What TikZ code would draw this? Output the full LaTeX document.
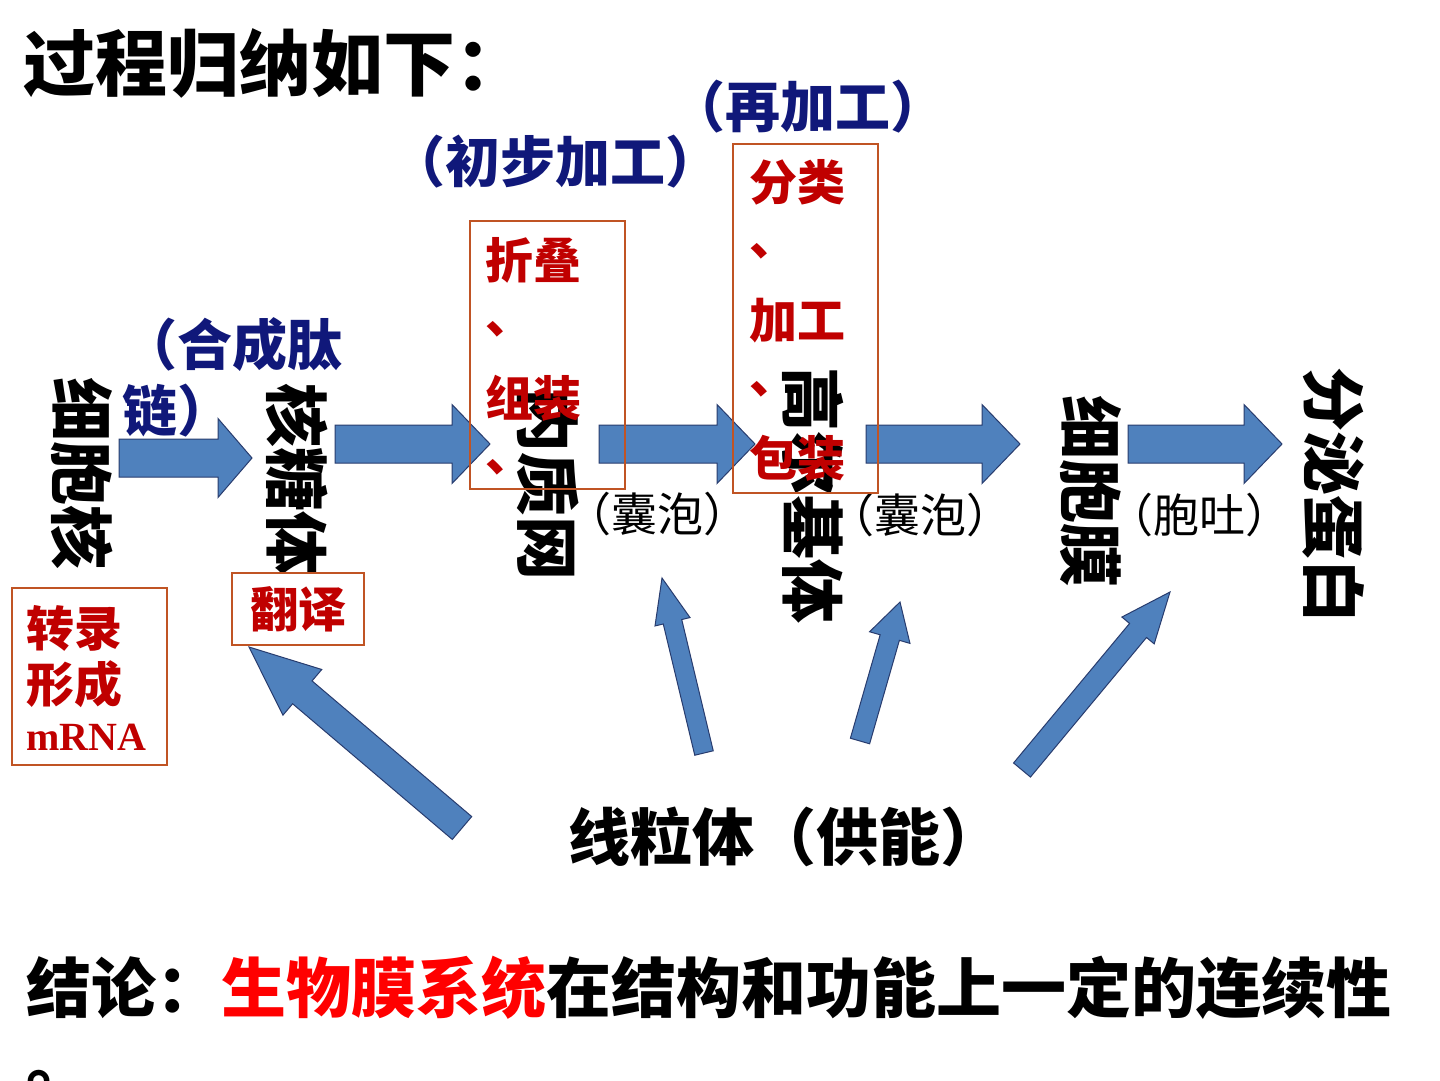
\documentclass[tikz,border=0pt]{standalone}
\usepackage{fontspec}
\setmainfont{Noto Sans CJK SC}
\newfontfamily\timesf{Liberation Serif}
\usepackage{tikz}
\usetikzlibrary{calc}
\usetikzlibrary{positioning}
\definecolor{navy}{RGB}{16,24,122}
\definecolor{darkred}{RGB}{192,0,0}
\definecolor{boxc}{RGB}{192,84,36}
\definecolor{arrfill}{RGB}{79,129,189}
\definecolor{arrline}{RGB}{40,60,110}
\newcommand{\fsz}[2]{\fontsize{#1}{#2}\selectfont}
\newcommand{\dun}{\raisebox{14pt}{、}}
\tikzstyle{vert}=[rotate=-90,inner sep=0,font=\bfseries\fsz{64}{64}]
\tikzstyle{note}=[inner sep=0,text=navy,font=\bfseries\fsz{55}{66},align=left,anchor=west]
\tikzstyle{small}=[inner sep=0,font=\fsz{46}{46},anchor=west]
\tikzstyle{redbox}=[draw=boxc,line width=1.5pt,inner sep=0]
\tikzstyle{redtxt}=[inner sep=0,text=darkred,font=\bfseries\fsz{48}{69},align=left,anchor=north west]
\tikzstyle{blockarr}=[fill=arrfill,draw=arrline,line width=1pt,line join=miter]
% tail, tip, shaft half width, head half width, head length
\newcommand{\fatarrow}[5]{%
  \coordinate (hb) at ($(#2)!#5pt!(#1)$);
  \draw[blockarr] ($(#1)!#3pt!90:(#2)$) -- ($(hb)!#3pt!90:(#2)$) -- ($(hb)!#4pt!90:(#2)$) -- (#2)
    -- ($(hb)!#4pt!-90:(#2)$) -- ($(hb)!#3pt!-90:(#2)$) -- ($(#1)!#3pt!-90:(#2)$) -- cycle;
}

\begin{document}
\begin{tikzpicture}[x=1pt,y=-1pt]
\fill[white] (0,0) rectangle (1440,1080);
\useasboundingbox (0,0) rectangle (1440,1080);

\node[inner sep=0,anchor=west,font=\bfseries\fsz{72}{72}] (title) at (23,63) {过程归纳如下：};

% the chain
\node[vert] (nuc) at (82,473) {细胞核};
\node[vert] (rib) at (297,479) {核糖体};
\node[vert] (er) at (548,484) {内质网};
\node[vert] (golgi) at (813,495) {高尔基体};
\node[vert] (mem) at (1091,491) {细胞膜};
\node[vert] (prot) at (1334,495) {分泌蛋白};

\node[note] (syn) at (122,377) {（合成肽\\链）};
\node[note] (first) at (390,162) {（初步加工）};
\node[note] (again) at (670,107) {（再加工）};

\node[small] (ves1) at (565,514) {（囊泡）};
\node[small] (ves2) at (828,515) {（囊泡）};
\node[small] (exo) at (1107,515) {（胞吐）};

\coordinate (t1) at (119,458); \coordinate (h1) at (252,458);
\coordinate (t2) at (335,444); \coordinate (h2) at (490,444);
\coordinate (t3) at (599,444); \coordinate (h3) at (755,444);
\coordinate (t4) at (866,444); \coordinate (h4) at (1020,444);
\coordinate (t5) at (1128,444); \coordinate (h5) at (1282,444);
\fatarrow{t1}{h1}{19}{39.5}{34}
\fatarrow{t2}{h2}{19}{39.5}{38}
\fatarrow{t3}{h3}{19}{39.5}{38}
\fatarrow{t4}{h4}{19}{39.5}{38}
\fatarrow{t5}{h5}{19}{39.5}{38}

% energy from mitochondria
\node[inner sep=0,anchor=west,font=\bfseries\fsz{62}{62}] (mito) at (568,837) {线粒体（供能）};
\coordinate (ma) at (462,828); \coordinate (mb) at (704,753);
\coordinate (mc) at (860,741); \coordinate (md) at (1022,770);
\coordinate (ta) at (249,647); \coordinate (tb) at (662,578);
\coordinate (tc) at (900,602); \coordinate (td) at (1170,592);
\fatarrow{ma}{ta}{15}{30}{70}
\fatarrow{mb}{tb}{9.5}{18}{45}
\fatarrow{mc}{tc}{10}{21}{37}
\fatarrow{md}{td}{11}{21}{50}

% red notes
\node[redbox,minimum width=155,minimum height=177] (trs) at (89.5,676.5) {};
\node[redtxt,font=\bfseries\fsz{48}{56}] (trstxt) at ([xshift=15pt,yshift=-18pt]trs.north west)
  {转录\\形成\\[-8pt]{\timesf\fsz{40}{40}mRNA}};
\node[redbox,fill=white,minimum width=132,minimum height=72,text=darkred,font=\bfseries\fsz{48}{48}] (tl) at (298,609) {翻译};
\node[redbox,minimum width=155,minimum height=268] (fold) at (547.5,355) {};
\node[redtxt] (foldtxt) at ([xshift=16pt,yshift=-17pt]fold.north west) {折叠\\\dun\\组装\\\dun};
\node[redbox,minimum width=145,minimum height=349] (sort) at (805.5,318.5) {};
\node[redtxt] (sorttxt) at ([xshift=17pt,yshift=-16pt]sort.north west) {分类\\\dun\\加工\\\dun\\包装};

% conclusion
\node[inner sep=0,anchor=west,font=\bfseries\fsz{65}{65}] (conc) at (26,988)
  {结论：\textcolor{red}{生物膜系统}在结构和功能上一定的连续性};
\node[inner sep=0,anchor=base west,font=\bfseries\fsz{65}{65}] (stop) at (26,1086) {。};
\end{tikzpicture}
\end{document}
